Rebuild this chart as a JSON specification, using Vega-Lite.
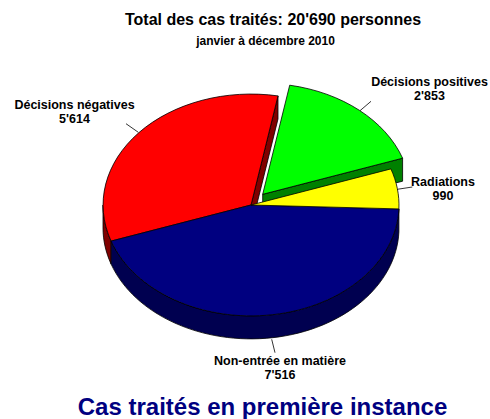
{
"$schema":"https://vega.github.io/schema/vega-lite/v6.json",
"width":490,"height":374,
"autosize":{"type":"none"},
"padding":{"top":45,"left":0,"right":0,"bottom":0},
"background":"white",
"config":{"view":{"stroke":null}},
"title":{"text":"Total des cas traités: 20'690 personnes","anchor":"middle","frame":"group","dx":28,"offset":7,"font":"Liberation Sans","fontSize":16,"fontWeight":"bold","color":"#000000"},
"data":{"values":[
{"label":"Décisions négatives","value":5614,"caption":"Décisions négatives\n5'614"},
{"label":"Décisions positives","value":2853,"caption":"Décisions positives\n2'853"},
{"label":"Non-entrée en matière","value":7516,"caption":"Non-entrée en matière\n7'516"},
{"label":"Radiations","value":990,"caption":"Radiations\n990"}
]},
"resolve":{"scale":{"shape":"independent","fill":"independent"}},
"layer":[
{"transform":[{"filter":"datum.label!=='Radiations'"}],
"mark":{"type":"point","filled":true,"size":4,"opacity":1,"stroke":"#000000","strokeWidth":0.8},
"encoding":{
"shape":{"field":"label","type":"nominal","legend":null,"scale":{"domain":["Décisions négatives","Décisions positives","Non-entrée en matière"],"range":[
"M33 -136.1L33 -113.1L6 -4L6 -27ZM-133.9 9.1L-133.9 32.1A148 111 0 0 1 -142 -4L-142 -27A148 111 0 0 0 -133.9 9.1Z",
"M157.6 -73.8L157.6 -50.8L17.7 -14.7L17.7 -37.7Z",
"M153.9 -23.1L153.9 -0.1A148 111 0 0 1 -133.9 32.1L-133.9 9.1A148 111 0 0 0 153.9 -23.1Z"]}},
"fill":{"field":"label","type":"nominal","legend":null,"scale":{"domain":["Décisions négatives","Décisions positives","Non-entrée en matière"],"range":["#800000","#008000","#000050"]}}
}},
{"mark":{"type":"point","filled":true,"size":4,"opacity":1,"stroke":"#000000","strokeWidth":0.8},
"encoding":{
"shape":{"field":"label","type":"nominal","legend":null,"scale":{"domain":["Décisions négatives","Décisions positives","Non-entrée en matière","Radiations"],"range":[
"M6 -27L-133.9 9.1A148 111 0 0 1 33 -136.1Z",
"M17.7 -37.7L44.7 -146.8A148 111 0 0 1 157.6 -73.8Z",
"M6 -27L153.9 -23.1A148 111 0 0 1 -133.9 9.1Z",
"M6 -27L145.9 -63.1A148 111 0 0 1 153.9 -23.1Z"]}},
"fill":{"field":"label","type":"nominal","legend":null,"scale":{"domain":["Décisions négatives","Décisions positives","Non-entrée en matière","Radiations"],"range":["#ff0000","#00ff00","#000080","#ffff00"]}}
}},
{"mark":{"type":"point","filled":false,"size":4,"opacity":1,"stroke":"#000000","strokeWidth":0.8},
"encoding":{
"shape":{"field":"label","type":"nominal","legend":null,"scale":{"domain":["Décisions négatives","Décisions positives","Non-entrée en matière","Radiations"],"range":[
"M-119 -108.3L-106.7 -99.7",
"M115 -121.3L126 -130.7",
"M26.7 107.3L30 120.7",
"M152.3 -42.7L167.3 -45"]}}
}},
{"transform":[{"filter":"datum.label==='Décisions négatives'"}],
"mark":{"type":"text","font":"Liberation Sans","fontWeight":"bold","fontSize":12.5,"lineBreak":"\n","lineHeight":14,"align":"center","baseline":"middle","dx":-170.5,"dy":-127},
"encoding":{"text":{"field":"caption"}}},
{"transform":[{"filter":"datum.label==='Décisions positives'"}],
"mark":{"type":"text","font":"Liberation Sans","fontWeight":"bold","fontSize":12.5,"lineBreak":"\n","lineHeight":14,"align":"center","baseline":"middle","dx":184.5,"dy":-150},
"encoding":{"text":{"field":"caption"}}},
{"transform":[{"filter":"datum.label==='Radiations'"}],
"mark":{"type":"text","font":"Liberation Sans","fontWeight":"bold","fontSize":12.5,"lineBreak":"\n","lineHeight":14,"align":"center","baseline":"middle","dx":198,"dy":-50.5},
"encoding":{"text":{"field":"caption"}}},
{"transform":[{"filter":"datum.label==='Non-entrée en matière'"}],
"mark":{"type":"text","font":"Liberation Sans","fontWeight":"bold","fontSize":12.5,"lineBreak":"\n","lineHeight":14,"align":"center","baseline":"middle","dx":35,"dy":129},
"encoding":{"text":{"field":"caption"}}},
{"data":{"values":[{"note":"janvier à décembre 2010"}]},
"mark":{"type":"text","font":"Liberation Sans","fontWeight":"bold","fontSize":12,"align":"center","baseline":"middle","dx":20.5,"dy":-191},
"encoding":{"text":{"field":"note"}}},
{"data":{"values":[{"note":"Cas traités en première instance"}]},
"mark":{"type":"text","font":"Liberation Sans","fontWeight":"bold","fontSize":24,"color":"#000080","align":"center","baseline":"middle","dx":17.5,"dy":176},
"encoding":{"text":{"field":"note"}}}
]
}
